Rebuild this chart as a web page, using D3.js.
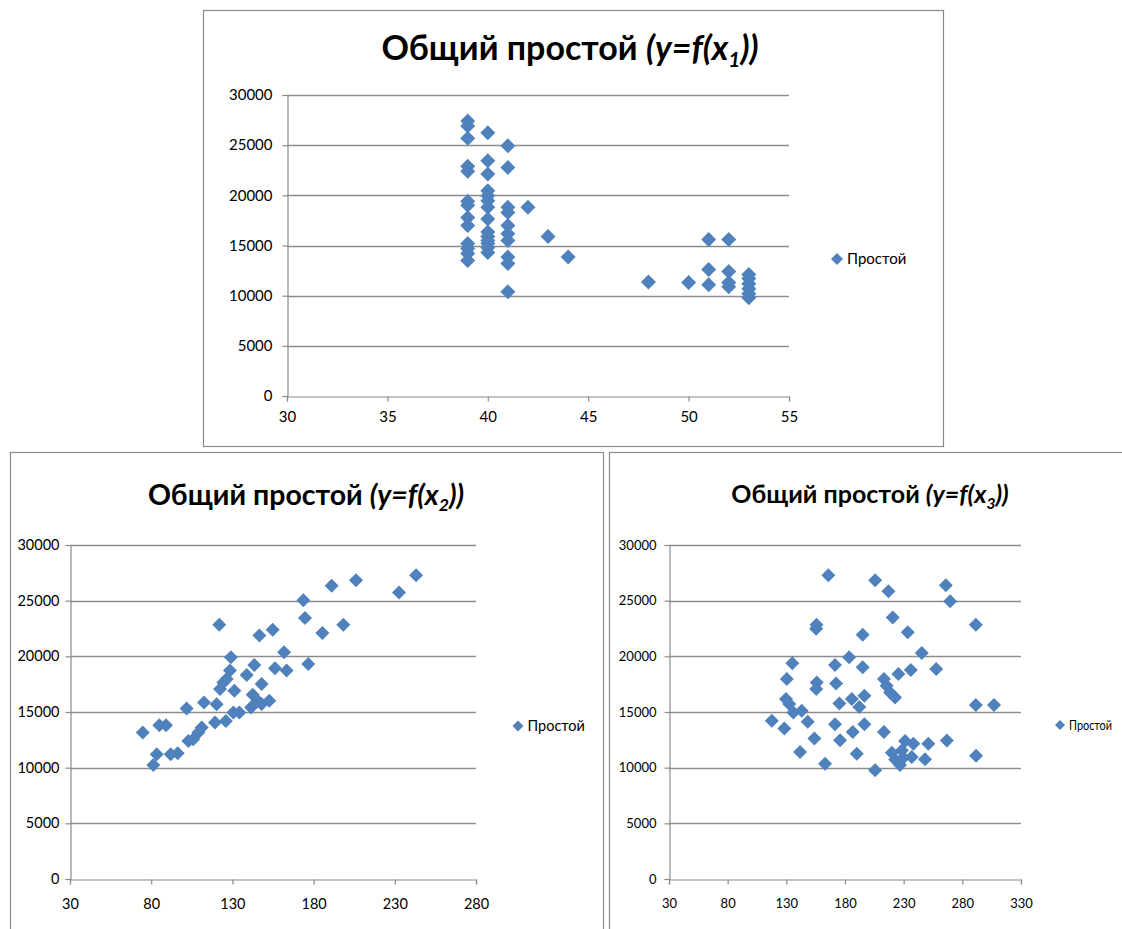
<!DOCTYPE html>
<html><head><meta charset="utf-8">
<script src="https://cdn.jsdelivr.net/npm/d3@7"></script>
<style>body{margin:0;background:#fff}</style>
</head><body>
<script>
// ---------- DATA ----------
const yTicks = [0, 5000, 10000, 15000, 20000, 25000, 30000];
const x1Ticks = [30, 35, 40, 45, 50, 55];
const x2Ticks = [30, 80, 130, 180, 230, 280];
const x3Ticks = [30, 80, 130, 180, 230, 280, 330];
const seriesName = "Простой";

const x1Values = [39,39,39,39,39,39,39,39,39,39,39,39,39,
  40,40,40,40,40,40,40,40,40,40,40,40,40,40,
  41,41,41,41,41,41,41,41,41,41,
  42,43,44,48,50,51,51,51,52,52,52,52,53,53,53,53,53,53];
const y1Values = [27400,26900,25700,22900,22400,19400,19000,17800,17000,15200,14700,14200,13500,
  26250,23440,22120,20450,19950,19460,18800,17640,16350,15900,15500,15200,14800,14300,
  24930,22780,18800,18300,16990,16170,15500,13850,13200,10380,
  18800,15900,13850,11360,11300,15600,12600,11100,15600,12400,11300,10900,12100,11700,11200,10700,10200,9800];

const x2Values = [74.8,81.3,83.4,85,89.1,92,96.3,101.8,102.9,105.9,109,111.1,112.5,119.3,120.3,121.9,122.4,124.4,126.5,128.5,129.1,126,131.2,130.6,134.3,138.8,141.5,142.5,143.5,146.6,148,148,152.7,154.8,156.2,161.8,163.4,173.7,174.7,176.7,185.4,191.1,198.3,206.1,232.6,243.1,145.5];
const y2Values = [13150,10230,11200,13820,13820,11200,11290,15320,12400,12550,13150,13600,15860,14050,15700,22840,17070,17660,17970,18720,19920,14200,16900,14960,14960,18330,15400,16550,19230,21880,17520,15710,16010,22390,18930,20370,18720,25040,23440,19320,22090,26330,22840,26840,25730,27290,16000];

const x3Values = [117.6,128.3,130.4,129.7,132.5,135.1,136.0,141.7,143.1,148.2,153.9,155.4,155.7,155.9,155.5,163.0,165.8,171.5,172.4,171.5,175.2,175.8,183.5,185.8,186.6,190.0,192.2,195.1,195.1,196.5,196.5,205.7,205.7,217.0,220.7,213.2,215.5,218.4,222.7,213.2,219.9,222.7,225.5,233.5,245.4,257.7,236.1,265.9,269.6,291.5,231.2,238.3,251.0,266.8,228.4,229.7,236.9,226.9,248.2,291.7,291.5,307.0];
const y3Values = [14210,13520,17970,16170,15710,19380,14960,11400,15110,14120,12610,22480,22840,17660,17060,10350,27290,19230,17570,13910,15770,12460,19920,16160,13210,11260,15460,21940,19020,16460,13910,9760,26840,25850,23480,17970,17360,16760,16310,13210,11340,10740,18420,22160,20300,18860,18770,26380,24940,22840,12400,12150,12150,12450,11550,10890,10950,10230,10750,11080,15620,15620];

// ---------- DRAW ----------
const W = 1122, H = 929;
const svg = d3.select("body").append("svg").attr("width", W).attr("height", H)
  .style("font-family", "Lato, 'Open Sans', sans-serif");
svg.append("rect").attr("width", W).attr("height", H).attr("fill", "#fff");

const blue = "#4F81BD", grid = "#8c8c8c", axisCol = "#8c8c8c";

function diamondPath(r){ return `M0,${-r}L${r},0L0,${r}L${-r},0Z`; }

function drawChart(o){
  const g = svg.append("g");
  g.append("rect").attr("x", o.box[0]+0.5).attr("y", o.box[1]+0.5)
    .attr("width", o.box[2]).attr("height", o.box[3])
    .attr("fill", "none").attr("stroke", "#8a8a8a").attr("stroke-width", 1.2);
  const t = g.append("text").attr("x", o.titleX).attr("y", o.titleY)
    .attr("text-anchor", "middle").attr("font-weight", "bold")
    .attr("font-size", o.titleSize).attr("fill", "#000");
  t.append("tspan").text("Общий простой ");
  t.append("tspan").attr("font-style", "italic").text("(y=f(x");
  t.append("tspan").attr("font-style", "italic").attr("font-size", o.titleSize*0.62)
    .attr("dy", o.titleSize*0.22).text(o.sub);
  t.append("tspan").attr("font-style", "italic").attr("dy", -o.titleSize*0.22).text("))");

  const x = d3.scaleLinear().domain(o.xDomain).range([o.plot[0], o.plot[2]]);
  const y = d3.scaleLinear().domain([0, 30000]).range([o.plot[3], o.plot[1]]);

  g.selectAll(".gl").data(yTicks.filter(d => d > 0)).enter().append("line")
    .attr("x1", o.plot[0]).attr("x2", o.plot[2])
    .attr("y1", d => Math.round(y(d))+0.5).attr("y2", d => Math.round(y(d))+0.5)
    .attr("stroke", grid).attr("stroke-width", 1.3);

  const ya = d3.axisLeft(y).tickValues(yTicks).tickSize(5).tickPadding(o.tickPadY).tickFormat(d3.format("d"));
  const yg = g.append("g").attr("transform", `translate(${o.plot[0]+0.5},0)`).call(ya);
  const xa = d3.axisBottom(x).tickValues(o.xTicks).tickSize(5).tickPadding(o.tickPadX).tickFormat(d3.format("d"));
  const xg = g.append("g").attr("transform", `translate(0,${o.plot[3]+0.5})`).call(xa);
  [yg, xg].forEach(a => {
    a.select(".domain").attr("stroke", axisCol).attr("stroke-width", 1.2);
    a.selectAll(".tick line").attr("stroke", axisCol).attr("stroke-width", 1.2);
    a.selectAll(".tick text").attr("fill", "#000").attr("font-size", o.tickSize)
      .attr("font-family", "Lato, sans-serif");
  });

  g.selectAll(".pt").data(o.xs.map((v, i) => [v, o.ys[i]])).enter().append("path")
    .attr("d", diamondPath(o.r))
    .attr("transform", d => `translate(${x(d[0])},${y(d[1])})`)
    .attr("fill", blue);

  g.append("path").attr("d", diamondPath(o.legR))
    .attr("transform", `translate(${o.legend[0]},${o.legend[1]})`).attr("fill", blue);
  const lt = g.append("text").attr("x", o.legend[0] + o.legR + 4).attr("y", o.legend[1])
    .attr("dy", "0.35em").attr("font-size", o.legSize).attr("fill", "#000")
    .attr("font-family", "Lato, sans-serif")
    .text(seriesName);
  if (o.legLen) lt.attr("textLength", o.legLen).attr("lengthAdjust", "spacingAndGlyphs");
}

drawChart({box:[203,10,740,436], titleX:570, titleY:60, titleSize:34, sub:"1",
  plot:[287,95,789,396], xDomain:[30,55], xTicks:x1Ticks, tickSize:15, tickPadY:10, tickPadX:10,
  xs:x1Values, ys:y1Values, r:7.5, legend:[837,259], legR:6, legSize:15});

drawChart({box:[10,452,593,490], titleX:306, titleY:505, titleSize:28.5, sub:"2",
  plot:[70,545,476,879], xDomain:[30,280], xTicks:x2Ticks, tickSize:14.5, tickPadY:6, tickPadX:14,
  xs:x2Values, ys:y2Values, r:7, legend:[518,726], legR:5.5, legSize:14.5});

drawChart({box:[609,452,520,490], titleX:870, titleY:503, titleSize:25, sub:"3",
  plot:[669,545,1021,879], xDomain:[30,330], xTicks:x3Ticks, tickSize:13, tickPadY:8, tickPadX:14,
  xs:x3Values, ys:y3Values, r:7, legend:[1060,725], legR:5, legSize:13.5, legLen:43});
</script>
</body></html>
